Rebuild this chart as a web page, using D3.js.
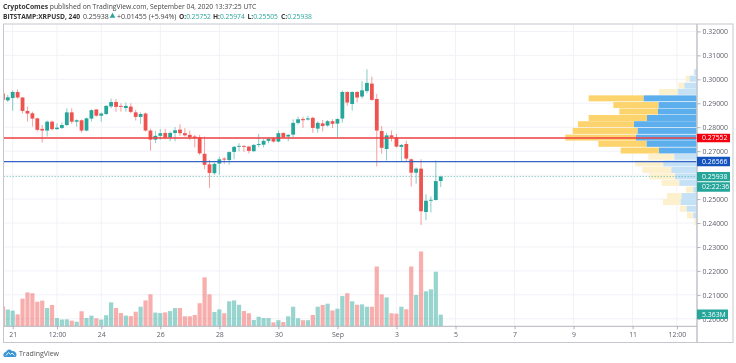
<!DOCTYPE html>
<html>
<head>
<meta charset="utf-8">
<script src="https://cdnjs.cloudflare.com/ajax/libs/d3/7.8.5/d3.min.js"></script>
<style>
    html, body { margin: 0; padding: 0; background: #fff; }
    svg { display: block; font-family: "Open Sans", sans-serif; filter: blur(0.35px); }
    .axis text { fill: #5d606b; font-size: 6.9px; font-family: "Open Sans", sans-serif; }
    .axis line { stroke: #9b9ea8; stroke-width: 0.8; }
    .axis path { display: none; }
</style>
</head>
<body>
<div id="chart"></div>
<script>
// bars are 4h candles, index 0 is Aug 21 00:00
const firstBar = -2;
const opens = [.2941,.2912,.2922,.2947,.2924,.2868,.2858,.2837,.2793,.2786,.2823,.2792,.2797,.2809,.2862,.2823,.2829,.2786,.2836,.2874,.2848,.2855,.2887,.2905,.2889,.2880,.2886,.2862,.2843,.2857,.2786,.2748,.2764,.2776,.2758,.2776,.2790,.2775,.2768,.2761,.2758,.2689,.2645,.2608,.2648,.2669,.2663,.2697,.2719,.2722,.2719,.2700,.2726,.2727,.2743,.2753,.2740,.2776,.2761,.2769,.2818,.2834,.2832,.2839,.2794,.2816,.2807,.2825,.2815,.2836,.2947,.2897,.2947,.2928,.2951,.2982,.2918,.2784,.2709,.2766,.2757,.2718,.2730,.2666,.2610,.2627,.2446,.2493,.2496,.25752];
const highs = [.2944,.2935,.2953,.2958,.2926,.2886,.2865,.2839,.2809,.2828,.2828,.2816,.2819,.2879,.2879,.2833,.2833,.2840,.2875,.2875,.2861,.2892,.2919,.2918,.2900,.2903,.2900,.2872,.2862,.2861,.2794,.2784,.2792,.2792,.2782,.2800,.2812,.2796,.2786,.2768,.2768,.2761,.2663,.2653,.2677,.2675,.2699,.2722,.2733,.2725,.2722,.2730,.2772,.2750,.2758,.2759,.2786,.2778,.2772,.2833,.2844,.2844,.2847,.2844,.2825,.2830,.2830,.2833,.2837,.2953,.2950,.2950,.2950,.2992,.3042,.3011,.2939,.2805,.2777,.2786,.2772,.2730,.2744,.2669,.2632,.2666,.2520,.2511,.2661,.25974];
const lows = [.2914,.2905,.2869,.2919,.2858,.2823,.2802,.2782,.2736,.2761,.2786,.2789,.2792,.2805,.2814,.2802,.2777,.2783,.2823,.2844,.2823,.2851,.2879,.2864,.2865,.2865,.2858,.2828,.2814,.2782,.2702,.2733,.2747,.2750,.2741,.2741,.2764,.2761,.2747,.2716,.2684,.2625,.2547,.2601,.2601,.2647,.2643,.2666,.2699,.2697,.2691,.2696,.2716,.2716,.2733,.2736,.2737,.2753,.2741,.2758,.2811,.2797,.2828,.2777,.2777,.2783,.2802,.2796,.2758,.2819,.2889,.2869,.2903,.2919,.2941,.2911,.2636,.2689,.2661,.2740,.2715,.2655,.2656,.2552,.2564,.2391,.2411,.2444,.2494,.25505];
const closes = [.2914,.2925,.2947,.2924,.2868,.2857,.2836,.2789,.2786,.2823,.2792,.2798,.2809,.2862,.2823,.2829,.2786,.2837,.2871,.2848,.2857,.2889,.2905,.2885,.2885,.2889,.2864,.2843,.2855,.2786,.2748,.2764,.2775,.2757,.2776,.2787,.2775,.2766,.2758,.2755,.2691,.2643,.2609,.2647,.2666,.2665,.2696,.2718,.2722,.2719,.2701,.2726,.2730,.2743,.2751,.2740,.2775,.2758,.2768,.2818,.2833,.2829,.2837,.2797,.2818,.2805,.2825,.2814,.2834,.2947,.2903,.2947,.2924,.2954,.2985,.2914,.2786,.2714,.2766,.2758,.2719,.2726,.2669,.2610,.2627,.2449,.2493,.2497,.2575,.25938];
// volume in millions
const volumes = [9.2,7.7,7.2,5.5,12.7,15.6,15.2,11.3,11.8,8.4,9.8,3.8,3.1,3.2,2.6,2.1,6.9,3.8,4.9,3.7,3.1,5.1,11.0,8.4,6.1,4.9,4.7,6.7,9.0,11.9,14.7,6.3,6.1,6.4,7.0,8.4,8.4,4.6,4.6,5.2,10.6,22.5,14.7,6.6,7.8,6.0,11.5,11.9,9.9,7.0,6.0,2.9,4.4,3.8,3.8,1.8,2.8,2.0,4.6,9.0,3.7,2.8,2.8,5.2,9.0,9.8,10.4,7.3,8.1,13.9,15.2,11.5,9.9,10.1,9.0,9.0,27.5,14.7,13.3,6.0,5.8,9.0,7.8,27.5,14.4,34.4,16.1,17.0,25.1,5.363];

// volume profile, buckets from the top down
const profileTops = [.3042,.3015,.2986,.2960,.2933,.2905,.2878,.2851,.2825,.2797,.2769,.2743,.2715,.2689,.2661,.2634,.2607,.2580,.2552,.2525,.2500,.2472,.2444,.2416];
const profileUp = [8,22,38,58,160,115,117,150,189,178,183,151,114,68,101,77,66,53,11,46,49,31,11,2];
const profileDown = [2,12,18,56,165,136,116,175,168,195,212,145,115,78,85,87,77,53,22,44,53,21,19,6];
const valueArea = [4, 12]; // first and last solid row

const priceTicks = [.20,.21,.22,.23,.24,.25,.26,.27,.28,.29,.30,.31,.32];
const timeTickBars = [0,9,18,30,42,54,66,78,90,102,114,126,135];
const timeTickLabels = ["21","12:00","24","26","28","30","Sep","3","5","7","9","11","12:00"];

const redLevel = 0.27552;
const blueLevel = 0.26566;
const lastPrice = 0.25938;
const lastVolume = 5.363;

const green = "#26a69a", red = "#ef5350";
const chartWidth = 736, chartHeight = 363;

let svg = d3.select("#chart").append("svg")
    .attr("width", chartWidth)
    .attr("height", chartHeight);

// pane edges
const paneLeft = 3.5, paneRight = 697, paneTop = 24, timeLine = 326.3, paneBottom = 342.5, outerRight = 733;

// scales
let x = d3.scaleLinear().domain([0, 135]).range([12.7, 676.9]);
let y = d3.scaleLinear().domain([0.24, 0.30]).range([223, 79.3]);
let yVol = d3.scaleLinear().domain([0, 10]).range([timeLine, timeLine - 21.75]);
let xProfile = d3.scaleLinear().domain([0, 395]).range([0, 131.67]);

svg.append("defs").append("clipPath")
    .attr("id", "clip")
    .append("rect")
    .attr("x", paneLeft).attr("y", paneTop)
    .attr("width", paneRight - paneLeft).attr("height", timeLine - paneTop);

// grid
svg.append("g").selectAll("line").data(priceTicks).enter().append("line")
    .attr("x1", paneLeft).attr("x2", paneRight)
    .attr("y1", d => y(d)).attr("y2", d => y(d))
    .attr("stroke", "#f1f2f7").attr("stroke-width", 1);
svg.append("g").selectAll("line").data(timeTickBars).enter().append("line")
    .attr("x1", d => x(d)).attr("x2", d => x(d))
    .attr("y1", paneTop).attr("y2", timeLine)
    .attr("stroke", "#f1f2f7").attr("stroke-width", 1);

// volume profile
let profile = svg.append("g").selectAll("g").data(profileTops).enter().append("g");
const inArea = i => i >= valueArea[0] && i <= valueArea[1];
const rowH = d => y(d - 0.0025) - y(d);
profile.append("rect")
    .attr("x", (d, i) => paneRight - xProfile(profileUp[i]) - xProfile(profileDown[i]))
    .attr("y", d => y(d))
    .attr("width", (d, i) => xProfile(profileDown[i]))
    .attr("height", rowH)
    .attr("fill", (d, i) => inArea(i) ? "#fdd36d" : "#fdf0cd");
profile.append("rect")
    .attr("x", (d, i) => paneRight - xProfile(profileUp[i]))
    .attr("y", d => y(d))
    .attr("width", (d, i) => xProfile(profileUp[i]))
    .attr("height", rowH)
    .attr("fill", (d, i) => inArea(i) ? "#5daeec" : "#c5e1f6");

let bars = opens.map((o, i) => ({
    bar: i + firstBar, open: o, high: highs[i], low: lows[i], close: closes[i], vol: volumes[i]
}));
const barColor = d => d.close >= d.open ? green : red;

let plot = svg.append("g").attr("clip-path", "url(#clip)");

// volume bars
plot.append("g").selectAll("rect").data(bars).enter().append("rect")
    .attr("x", d => x(d.bar) - 2.1)
    .attr("width", 4.2)
    .attr("y", d => yVol(d.vol))
    .attr("height", d => yVol(0) - yVol(d.vol))
    .attr("fill", barColor)
    .attr("opacity", 0.47);

// candles
plot.append("g").selectAll("line").data(bars).enter().append("line")
    .attr("x1", d => x(d.bar)).attr("x2", d => x(d.bar))
    .attr("y1", d => y(d.high)).attr("y2", d => y(d.low))
    .attr("stroke", barColor)
    .attr("stroke-width", 0.7)
    .attr("opacity", 0.8);
plot.append("g").selectAll("rect").data(bars).enter().append("rect")
    .attr("x", d => x(d.bar) - 1.9)
    .attr("width", 3.8)
    .attr("y", d => y(Math.max(d.open, d.close)))
    .attr("height", d => Math.max(0.9, Math.abs(y(d.open) - y(d.close))))
    .attr("fill", barColor);

// horizontal levels
plot.append("line")
    .attr("x1", paneLeft).attr("x2", paneRight)
    .attr("y1", y(redLevel)).attr("y2", y(redLevel))
    .attr("stroke", "#ee3f42").attr("stroke-width", 1.6);
plot.append("line")
    .attr("x1", paneLeft).attr("x2", paneRight)
    .attr("y1", y(blueLevel)).attr("y2", y(blueLevel))
    .attr("stroke", "#3464c4").attr("stroke-width", 1.3);
plot.append("line")
    .attr("x1", paneLeft).attr("x2", paneRight)
    .attr("y1", y(lastPrice)).attr("y2", y(lastPrice))
    .attr("stroke", green).attr("stroke-width", 0.7)
    .attr("stroke-dasharray", "1.5,1.5")
    .attr("opacity", 0.7);

// frame
let frame = svg.append("g").attr("fill", "none").attr("stroke", "#c6c7cd");
frame.append("rect")
    .attr("x", paneLeft).attr("y", paneTop)
    .attr("width", outerRight - paneLeft).attr("height", paneBottom - paneTop)
    .attr("stroke-width", 1);
frame.append("line")
    .attr("x1", paneRight).attr("x2", paneRight)
    .attr("y1", paneTop).attr("y2", paneBottom)
    .attr("stroke-width", 1.6);
frame.append("line")
    .attr("x1", paneLeft).attr("x2", paneRight)
    .attr("y1", timeLine).attr("y2", timeLine)
    .attr("stroke", "#b4b6be").attr("stroke-width", 1);

// axes, 0.26000 sits fully under the last price tag so it gets no text
svg.append("g")
    .attr("class", "axis")
    .attr("transform", `translate(${paneRight + 0.5}, 0)`)
    .call(d3.axisRight(y).tickValues(priceTicks)
        .tickFormat(d => d === .26 ? "" : d3.format(".5f")(d)).tickSize(3).tickPadding(2));
svg.append("g")
    .attr("class", "axis")
    .attr("transform", `translate(0, ${timeLine})`)
    .call(d3.axisBottom(x).tickValues(timeTickBars)
        .tickFormat((d, i) => timeTickLabels[i]).tickSize(3).tickPadding(3));

// price and volume labels on the axis
function axisLabel(value, cy, h, fill, boxW) {
    svg.append("rect")
        .attr("x", paneRight).attr("y", cy - h / 2)
        .attr("width", boxW).attr("height", h)
        .attr("rx", 0.5)
        .attr("fill", fill);
    svg.append("text")
        .attr("x", paneRight + 5).attr("y", cy + 2.5)
        .attr("fill", "#fff")
        .style("font-size", "6.9px")
        .text(value);
}
axisLabel(d3.format(".5f")(redLevel), y(redLevel), 8.6, "#f5000f", 33);
axisLabel(d3.format(".5f")(blueLevel), y(blueLevel), 9.4, "#1452bd", 33);
axisLabel(d3.format(".5f")(lastPrice), y(lastPrice), 9.2, green, 33);
axisLabel("02:22:36", y(lastPrice) + 10.4, 9.6, green, 33);
axisLabel(lastVolume + "M", yVol(lastVolume) - 0.4, 9.6, green, 31);

// header
let head1 = svg.append("text").attr("x", 3).attr("y", 9.4)
    .attr("fill", "#444").style("font-size", "6.75px");
head1.append("tspan").attr("font-weight", "bold").attr("fill", "#333").text("CryptoComes");
head1.append("tspan").text(" published on TradingView.com, September 04, 2020 13:37:25 UTC");

const headFont = "7px", headBold = "6.7px", headY = 18.6;
svg.append("text").attr("x", 3).attr("y", headY)
    .attr("font-weight", "bold").attr("fill", "#333").style("font-size", headBold)
    .text("BITSTAMP:XRPUSD, 240");
svg.append("text").attr("x", 83).attr("y", headY)
    .attr("fill", "#444").style("font-size", headFont).text("0.25938");
svg.append("path")
    .attr("d", d3.symbol(d3.symbolTriangle, 14))
    .attr("transform", "translate(112.5, 16)")
    .attr("fill", green);
svg.append("text").attr("x", 117).attr("y", headY)
    .attr("fill", "#444").style("font-size", headFont).text("+0.01455 (+5.94%)");

const ohlcNames = ["O:", "H:", "L:", "C:"];
const ohlcValues = ["0.25752", "0.25974", "0.25505", "0.25938"];
const ohlcX = [179, 213, 247.5, 281];
ohlcNames.forEach((n, i) => {
    let t = svg.append("text").attr("x", ohlcX[i]).attr("y", headY).style("font-size", headBold);
    t.append("tspan").attr("font-weight", "bold").attr("fill", "#333").text(n);
    t.append("tspan").attr("fill", green).text(ohlcValues[i]);
});

// footer logo and name
svg.append("path")
    .attr("d", "M3.5 356 C3 353 5 352 6 352 C7 349 10.5 348.5 12 351 C14 350.5 16.5 352.5 16.5 354.5 C16.5 356 16 357 15 357 L5 357 C4 357 3.7 356.5 3.5 356 Z")
    .attr("fill", "#3a97d6");
svg.append("path")
    .attr("d", "M6 355.5 L8.5 352.5 L10.5 354.5 L12 353 L14.5 355.5")
    .attr("fill", "none").attr("stroke", "#fff").attr("stroke-width", 0.9);
svg.append("text").attr("x", 19).attr("y", 355.5)
    .attr("fill", "#555").style("font-size", "7px").text("TradingView");
</script>
</body>
</html>
